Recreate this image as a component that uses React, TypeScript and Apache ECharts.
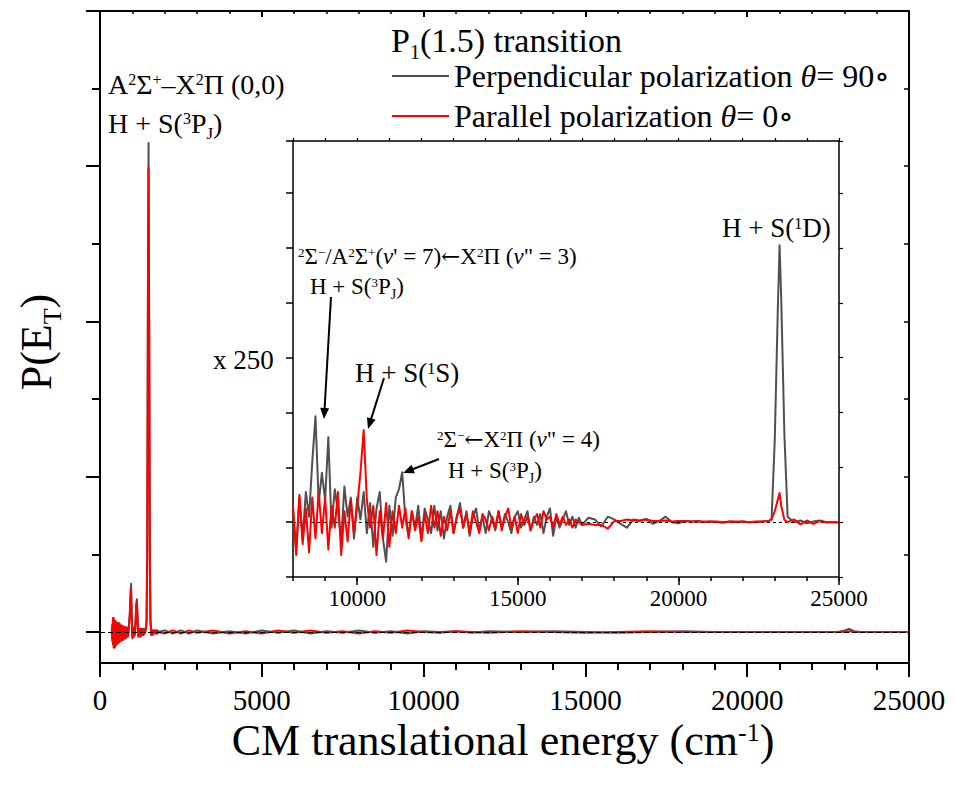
import React, { useEffect, useRef } from 'react';
import * as echarts from 'echarts';

const FONT = "'Liberation Serif', 'Times New Roman', serif";
const SYMFONT = "'DejaVu Serif', 'DejaVu Sans', serif";
const GRAY = '#505050';
const RED = '#ff0000';
const PERP = 'Perpendicular polarization';
const PARA = 'Parallel polarization';

// ---------- main panel data (x: cm-1, y: P(E_T), arbitrary units) ----------
const mainX = [
  360, 380, 400, 420, 440, 460, 480, 500, 520, 540,
  560, 580, 600, 620, 640, 660, 680, 700, 720, 740,
  760, 780, 800, 820, 840, 860, 880, 900, 920, 940,
  960, 980, 1000, 1020, 1040, 1060, 1080, 1100, 1120, 1140,
  1160, 1180, 1200, 1220, 1240, 1260, 1280, 1300, 1320, 1340,
  1360, 1380, 1400, 1420, 1440, 1460, 1480, 1500, 1520, 1540,
  1560, 1580, 1600, 1620, 1640, 1660, 1680, 1700, 1720, 1740,
  1760, 1780, 1800,
  2000, 2250, 2500, 2750, 3000, 3500, 4000, 4500, 5000, 5500,
  6000, 6500, 7000, 7500, 8000, 8500, 9000, 9500, 10000, 10500,
  11000, 11500, 12000, 13000, 14000, 15000, 16000, 17000, 18000, 19000,
  20000, 21000, 22000, 22800, 23000, 23150, 23300, 23500, 24000, 25000,
];
const mainPerp = [
  0.0, 0.05, -0.08, 0.09, -0.1, 0.07, -0.09, 0.06, -0.08, 0.05,
  -0.07, 0.06, -0.06, 0.05, -0.06, 0.04, -0.05, 0.04, -0.05, 0.03,
  -0.04, 0.03, -0.04, 0.03, -0.03, 0.02, -0.02, 0.06, 0.12, 0.24,
  0.31, 0.12, -0.03, 0.02, -0.03, 0.02, 0.01, 0.08, 0.18, 0.21,
  0.1, -0.02, 0.02, -0.03, 0.02, -0.02, 0.01, -0.02, 0.02, -0.02,
  0.01, 0.02, 0.0, 0.03, 0.08, 0.6, 2.2, 3.15, 2.0, 0.5,
  0.08, 0.02, -0.01, 0.01, -0.01, 0.01, 0.0, -0.01, 0.01, 0.0,
  -0.01, 0.01, 0.0,
  0.01, -0.01, 0.01, -0.01, 0.01, -0.01, 0.005, -0.01, 0.01, -0.005,
  0.01, -0.01, 0.005, -0.005, 0.01, -0.005, 0.005, -0.01, 0.005, 0,
  0.005, -0.005, 0.005, 0, 0.005, 0, -0.005, 0, 0.005, 0,
  0, 0, 0, 0, 0.008, 0.02, 0.005, 0, 0, 0,
];
const mainPara = [
  0.0, -0.06, 0.09, -0.1, 0.08, -0.1, 0.07, -0.08, 0.06, -0.07,
  0.05, -0.07, 0.05, -0.06, 0.04, -0.05, 0.04, -0.05, 0.03, -0.04,
  0.03, -0.04, 0.03, -0.03, 0.02, -0.03, 0.02, 0.05, 0.1, 0.2,
  0.28, 0.1, -0.04, 0.03, -0.03, 0.02, -0.02, 0.06, 0.16, 0.19,
  0.08, -0.03, 0.02, -0.02, 0.01, -0.03, 0.02, -0.01, 0.01, -0.02,
  0.02, -0.01, 0.01, 0.02, 0.07, 0.5, 2.0, 2.99, 1.9, 0.45,
  0.06, -0.02, 0.01, -0.02, 0.01, 0.0, 0.01, -0.01, 0.0, 0.01,
  0.0, -0.01, 0.0,
  -0.01, 0.01, -0.01, 0.01, -0.005, 0.01, -0.01, 0.005, -0.01, 0.01,
  -0.005, 0.01, -0.005, 0.005, -0.01, 0.005, -0.005, 0.01, 0, -0.005,
  0.005, 0, -0.005, 0.005, 0, -0.005, 0, 0.005, 0, 0,
  0, 0, 0, 0, 0.002, 0.004, 0.001, 0, 0, 0,
];

// ---------- inset data (x 250 magnification) ----------
const insetX = [
  8000, 8100, 8200, 8300, 8400, 8500, 8600, 8700, 8800, 8900,
  9000, 9100, 9200, 9300, 9400, 9500, 9600, 9700, 9800, 9900,
  10000, 10100, 10200, 10300, 10400, 10500, 10600, 10700, 10800, 10900,
  11000, 11100, 11200, 11300, 11400, 11500, 11600, 11700, 11800, 11900,
  12000, 12100, 12200, 12300, 12400, 12500, 12600, 12700, 12800, 12900,
  13000, 13100, 13200, 13300, 13400, 13500, 13600, 13700, 13800, 13900,
  14000, 14100, 14200, 14300, 14400, 14500, 14600, 14700, 14800, 14900,
  15000, 15100, 15200, 15300, 15400, 15500, 15600, 15700, 15800, 15900,
  16000, 16100, 16200, 16300, 16400, 16500, 16600, 16700, 16800, 16900,
  17000, 17200, 17400, 17600, 17800, 18000, 18200, 18400, 18600, 18800,
  19000, 19200, 19400, 19600, 19800, 20000, 20200, 20400, 20600, 20800,
  21000, 21200, 21400, 21600, 21800, 22000, 22200, 22400, 22600,
  22800, 22900, 23000, 23100, 23150, 23200, 23300, 23400,
  23600, 23800, 24000, 24200, 24400, 24600, 24800, 25000,
];
const insetPerp = [
  0.2, -0.5, 0.45, -0.3, 0.55, 0.1, 1.1, 1.93, 0.35, 0.9,
  0.4, 1.55, -0.1, 0.6, 0.2, -0.35, 0.65, 0.1, 0.45, -0.3,
  0.45, 0.05, 0.55, -0.2, 0.35, -0.45, 0.25, 0.55, -0.3, -0.72,
  0.3, -0.25, 0.45, 0.6, 0.91, 0.05, -0.25, 0.2, -0.1, 0.3,
  -0.3, 0.25, 0.05, -0.2, 0.3, -0.15, 0.2, -0.3, 0.1, 0.3,
  -0.2, 0.1, 0.35, -0.1, 0.2, -0.25, 0.1, 0.25, -0.15, 0.1,
  -0.2, 0.2, 0.05, -0.15, 0.2, -0.1, 0.15, 0.0, -0.2, 0.1,
  0.2, -0.1, 0.05, 0.2, -0.15, 0.1, -0.05, 0.15, -0.2, 0.1,
  0.25, -0.25, 0.1, -0.1, 0.05, 0.2, -0.05, 0.1, -0.1, 0.08,
  -0.05, 0.08, 0.05, -0.08, 0.1, 0.05, -0.03, -0.1, 0.05, 0.03,
  0.06, -0.03, 0.02, 0.1, 0.0, -0.02, 0.02, 0.01, 0.02, 0.0,
  0.01, 0.0, -0.01, 0.01, 0.0, 0.01, 0.0, 0.0, 0.01,
  0.02, 0.05, 1.5, 4.0, 5.05, 4.1, 1.6, 0.1,
  0.0, 0.03, -0.02, 0.01, 0.03, 0.0, 0.0, 0.0,
];
const insetPara = [
  0.3, -0.6, 0.5, -0.4, 0.25, -0.55, 0.45, -0.3, 0.55, -0.2,
  0.45, -0.5, 0.3, -0.1, 0.55, -0.6, 0.2, -0.35, 0.4, -0.2,
  0.3, 0.9, 1.68, 0.4, -0.1, 0.3, -0.6, 0.2, -0.3, 0.35,
  -0.45, 0.2, -0.2, 0.3, -0.1, 0.25, -0.3, 0.2, -0.15, 0.1,
  -0.35, 0.15, -0.2, 0.3, -0.1, 0.2, -0.25, 0.1, -0.15, 0.2,
  -0.2, 0.1, 0.25, -0.1, 0.15, -0.2, 0.2, 0.0, -0.2, 0.15,
  0.05, -0.15, 0.1, -0.1, 0.2, -0.15, 0.1, 0.25, -0.1, 0.1,
  -0.2, 0.15, -0.05, 0.1, -0.15, 0.05, 0.15, -0.1, 0.2, 0.05,
  0.1, -0.1, 0.15, -0.05, 0.1, -0.05, 0.05, -0.1, 0.05, 0.0,
  -0.05, -0.03, -0.05, -0.05, -0.12, 0.02, 0.02, 0.05, 0.03, 0.02,
  0.05, 0.02, 0.02, 0.03, 0.01, 0.02, 0.02, 0.01, 0.01, 0.01,
  0.01, 0.01, 0.0, 0.01, 0.01, 0.01, 0.0, 0.01, 0.01,
  0.02, 0.05, 0.2, 0.42, 0.53, 0.3, 0.04, 0.0,
  0.05, -0.04, 0.03, -0.03, 0.02, 0.0, 0.0, 0.0,
];

// ---------- ticks ----------
const mainYMajor = [0, 1, 2, 3, 4];
const mainYMinor = [0.5, 1.5, 2.5, 3.5];
const mainYAll = [0, 0.5, 1, 1.5, 2, 2.5, 3, 3.5, 4];
const insetXMajor = [10000, 15000, 20000, 25000];

const zip = (xs: number[], ys: number[]) => xs.map((x, i) => [x, ys[i]]);

// tiny markup -> echarts rich text: ^{sup} _{sub} *{italic} ~{symbol font}
function toRich(markup: string): string {
  let out = '';
  let buf = '';
  const flush = () => {
    if (buf) out += `{n|${buf}}`;
    buf = '';
  };
  let i = 0;
  while (i < markup.length) {
    const c = markup[i];
    if ((c === '^' || c === '_' || c === '*' || c === '~') && markup[i + 1] === '{') {
      flush();
      const end = markup.indexOf('}', i + 2);
      const inner = markup.slice(i + 2, end);
      const st = c === '^' ? 'sup' : c === '_' ? 'sub' : c === '*' ? 'i' : 'sym';
      out += `{${st}|${inner}}`;
      i = end + 1;
    } else {
      buf += c;
      i++;
    }
  }
  flush();
  return out;
}

function richStyles(f: number) {
  const L = Math.round(f * 1.2);
  const supH = Math.round(L - 0.34 * f);
  const subH = Math.round(L - 0.72 * f);
  return {
    n: { fontSize: f, fontFamily: FONT, color: '#000', lineHeight: L },
    i: { fontSize: f, fontFamily: FONT, color: '#000', lineHeight: L, fontStyle: 'italic' },
    sym: { fontSize: f, fontFamily: SYMFONT, color: '#000', lineHeight: L },
    sup: {
      fontSize: Math.round(f * 0.58), fontFamily: FONT, color: '#000',
      height: supH, lineHeight: supH, verticalAlign: 'top',
    },
    sub: {
      fontSize: Math.round(f * 0.6), fontFamily: FONT, color: '#000',
      height: subH, lineHeight: subH, verticalAlign: 'bottom',
    },
  };
}

function label(markup: string, x: number, y: number, f: number, extra: any = {}) {
  const { center, ...rest } = extra;
  return {
    type: 'text',
    x,
    y,
    z: 100,
    silent: true,
    ...rest,
    style: {
      text: toRich(markup),
      rich: richStyles(f),
      fontFamily: FONT,
      fontSize: f,
      align: center ? 'center' : 'left',
      verticalAlign: 'middle',
      textAlign: center ? 'center' : 'left',
      textVerticalAlign: 'middle',
    },
  };
}

function arrow(x1: number, y1: number, x2: number, y2: number) {
  const dx = x2 - x1;
  const dy = y2 - y1;
  const len = Math.sqrt(dx * dx + dy * dy);
  const ux = dx / len;
  const uy = dy / len;
  const hl = 11;
  const hw = 4.5;
  const bx = x2 - ux * hl;
  const by = y2 - uy * hl;
  return [
    {
      type: 'line', z: 100, silent: true,
      shape: { x1, y1, x2: bx + ux * 2, y2: by + uy * 2 },
      style: { stroke: '#000', lineWidth: 2 },
    },
    {
      type: 'polygon', z: 100, silent: true,
      shape: { points: [[x2, y2], [bx - uy * hw, by + ux * hw], [bx + uy * hw, by - ux * hw]] },
      style: { fill: '#000' },
    },
  ];
}

export default function App() {
  const ref = useRef<HTMLDivElement>(null);

  useEffect(() => {
    if (!ref.current) return;
    const chart = echarts.init(ref.current, null, { renderer: 'svg' });

    const legendRich = richStyles(32);

    const tickBase = { lineStyle: { color: '#000', width: 2 } };
    const noLine = { show: false, onZero: false };

    const option: any = {
      animation: false,
      backgroundColor: '#fff',
      textStyle: { fontFamily: FONT },
      legend: {
        left: 392,
        top: 60,
        orient: 'vertical',
        padding: 0,
        itemGap: 8,
        itemWidth: 57,
        itemHeight: 2,
        icon: 'rect',
        selectedMode: false,
        data: [PERP, PARA],
        formatter: (name: string) =>
          name === PERP
            ? toRich('Perpendicular polarization *{θ}= 90~{∘}')
            : toRich('Parallel polarization *{θ}= 0~{∘}'),
        textStyle: { rich: legendRich, fontSize: 32, fontFamily: FONT, color: '#000' },
      },
      grid: [
        {
          left: 100, right: 46, top: 11, bottom: 122,
          show: true, borderColor: '#000', borderWidth: 2,
          backgroundColor: 'transparent', outerBoundsMode: 'none',
        },
        {
          left: 293, right: 116, top: 141, bottom: 208,
          show: true, borderColor: '#000', borderWidth: 1.5,
          backgroundColor: '#fff', outerBoundsMode: 'none',
        },
      ],
      xAxis: [
        {
          gridIndex: 0, type: 'value', position: 'bottom', min: 0, max: 25000, interval: 5000,
          axisLine: noLine,
          axisTick: { show: true, inside: false, length: 14, ...tickBase },
          minorTick: { show: true, splitNumber: 5, length: 7, lineStyle: { color: '#000', width: 2 } },
          splitLine: { show: false }, minorSplitLine: { show: false },
          axisLabel: {
            show: true, color: '#000', fontSize: 29, fontFamily: FONT, margin: 22, lineHeight: 30,
            showMinLabel: true, showMaxLabel: true,
            formatter: (v: number) => String(v),
          },
        },
        {
          gridIndex: 0, type: 'value', position: 'top', min: 0, max: 25000, interval: 5000,
          axisLine: noLine,
          axisTick: { show: true, inside: true, length: 6, ...tickBase },
          minorTick: { show: true, splitNumber: 5, length: 3, lineStyle: { color: '#000', width: 1.5 } },
          splitLine: { show: false }, axisLabel: { show: false },
        },
        {
          gridIndex: 1, type: 'value', position: 'bottom', min: 8000, max: 25000, interval: 1000,
          axisLine: noLine,
          axisTick: { show: true, inside: false, length: 4, lineStyle: { color: '#000', width: 1.5 } },
          splitLine: { show: false },
          axisLabel: {
            show: true, color: '#000', fontSize: 23, fontFamily: FONT, margin: 9, lineHeight: 24,
            showMinLabel: true, showMaxLabel: true,
            formatter: (v: number) => (v % 5000 === 0 ? String(v) : ''),
          },
        },
        {
          gridIndex: 1, type: 'value', position: 'bottom', min: 8000, max: 25000,
          axisLine: noLine,
          axisTick: { show: true, inside: false, length: 8, customValues: insetXMajor, lineStyle: { color: '#000', width: 1.5 } },
          splitLine: { show: false }, axisLabel: { show: false },
        },
        {
          gridIndex: 1, type: 'value', position: 'top', min: 8000, max: 25000, interval: 1000,
          axisLine: noLine,
          axisTick: { show: true, inside: false, length: 3, lineStyle: { color: '#000', width: 1.2 } },
          splitLine: { show: false }, axisLabel: { show: false },
        },
      ],
      yAxis: [
        {
          gridIndex: 0, type: 'value', position: 'left', min: -0.2, max: 4,
          axisLine: noLine,
          axisTick: { show: true, inside: false, length: 14, customValues: mainYMajor, ...tickBase },
          splitLine: { show: false }, axisLabel: { show: false },
        },
        {
          gridIndex: 0, type: 'value', position: 'left', min: -0.2, max: 4,
          axisLine: noLine,
          axisTick: { show: true, inside: false, length: 8, customValues: mainYMinor, ...tickBase },
          splitLine: { show: false }, axisLabel: { show: false },
        },
        {
          gridIndex: 0, type: 'value', position: 'right', min: -0.2, max: 4,
          axisLine: noLine,
          axisTick: { show: true, inside: true, length: 5, customValues: mainYAll, lineStyle: { color: '#000', width: 1.5 } },
          splitLine: { show: false }, axisLabel: { show: false },
        },
        {
          gridIndex: 1, type: 'value', position: 'left', min: -1, max: 6.95, interval: 1,
          axisLine: noLine,
          axisTick: { show: true, inside: false, length: 7, lineStyle: { color: '#000', width: 1.5 } },
          splitLine: { show: false }, axisLabel: { show: false },
        },
        {
          gridIndex: 1, type: 'value', position: 'right', min: -1, max: 6.95, interval: 1,
          axisLine: noLine,
          axisTick: { show: true, inside: false, length: 4, lineStyle: { color: '#000', width: 1.2 } },
          splitLine: { show: false }, axisLabel: { show: false },
        },
      ],
      series: [
        {
          name: PERP, type: 'line', xAxisIndex: 0, yAxisIndex: 0,
          data: zip(mainX, mainPerp), showSymbol: false, symbol: 'none',
          lineStyle: { color: GRAY, width: 2, join: 'round' }, itemStyle: { color: GRAY },
          z: 2,
        },
        {
          name: PARA, type: 'line', xAxisIndex: 0, yAxisIndex: 0,
          data: zip(mainX, mainPara), showSymbol: false, symbol: 'none',
          lineStyle: { color: RED, width: 2, join: 'round' }, itemStyle: { color: RED },
          z: 3,
          markLine: {
            silent: true, symbol: ['none', 'none'], label: { show: false },
            lineStyle: { color: '#000', type: [5, 3], width: 1 },
            data: [{ yAxis: 0 }],
          },
        },
        {
          name: PERP, type: 'line', xAxisIndex: 2, yAxisIndex: 3,
          data: zip(insetX, insetPerp), showSymbol: false, symbol: 'none',
          lineStyle: { color: GRAY, width: 2, join: 'round' }, itemStyle: { color: GRAY },
          z: 4,
        },
        {
          name: PARA, type: 'line', xAxisIndex: 2, yAxisIndex: 3,
          data: zip(insetX, insetPara), showSymbol: false, symbol: 'none',
          lineStyle: { color: RED, width: 2, join: 'round' }, itemStyle: { color: RED },
          z: 5,
          markLine: {
            silent: true, symbol: ['none', 'none'], label: { show: false },
            lineStyle: { color: '#000', type: [3, 3], width: 1 },
            data: [{ yAxis: 0 }],
          },
        },
      ],
      graphic: [
        label('P_{1}(1.5) transition', 391, 40, 34),
        label('A^{2}Σ^{+}–X^{2}Π (0,0)', 108, 84, 28),
        label('H + S(^{3}P_{J})', 108, 123, 28),
        label('^{2}Σ^{−}/A^{2}Σ^{+}(*{v}\' = 7)~{←}X^{2}Π (*{v}" = 3)', 298, 256, 23),
        label('H + S(^{3}P_{J})', 310, 286, 23),
        label('H + S(^{1}S)', 355, 373, 27),
        label('^{2}Σ^{−}~{←}X^{2}Π (*{v}" = 4)', 437, 439, 23),
        label('H + S(^{3}P_{J})', 448, 470, 23),
        label('H + S(^{1}D)', 722, 228, 27),
        label('x 250', 213, 360, 27),
        label('CM translational energy (cm^{-1})', 503, 740, 44, { center: true }),
        label('P(E_{T})', 36, 342, 44, { center: true, rotation: Math.PI / 2 }),
        ...arrow(331, 297, 324, 419),
        ...arrow(384, 378, 368, 429),
        ...arrow(439, 459, 403, 473),
      ],
    };

    chart.setOption(option);
    return () => chart.dispose();
  }, []);

  return (
    <div
      ref={ref}
      style={{ position: 'absolute', left: 0, top: 0, width: 955, height: 785 }}
    />
  );
}
